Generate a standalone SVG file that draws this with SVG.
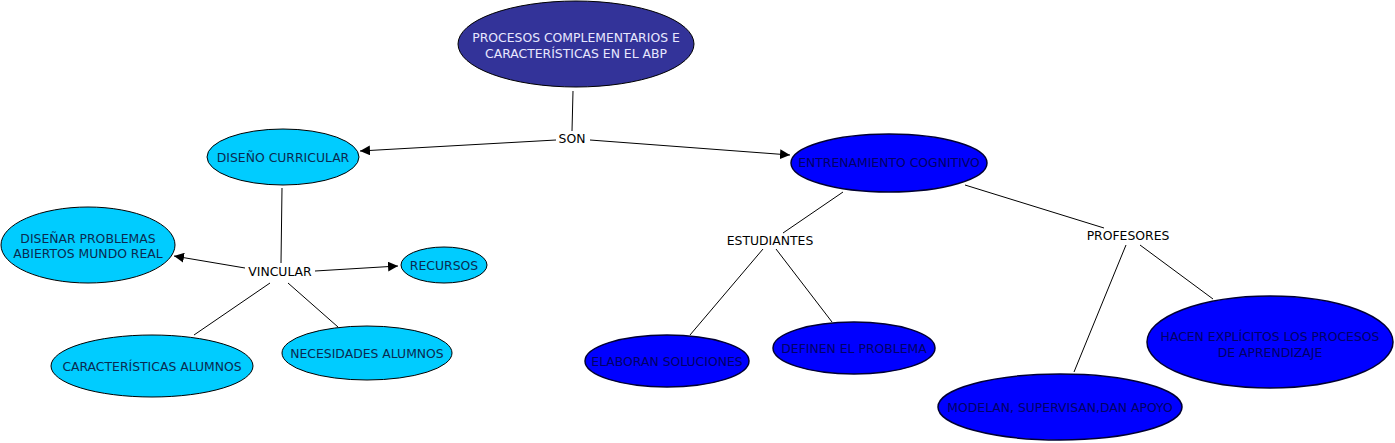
<svg xmlns="http://www.w3.org/2000/svg" width="1395" height="443" viewBox="0 0 1395 443">
<defs>
<marker id="arr" viewBox="0 0 10 10" refX="10" refY="5" markerWidth="10" markerHeight="10" markerUnits="userSpaceOnUse" orient="auto">
<path d="M0,0 L10,5 L0,10 z" fill="#000"/>
</marker>
<style>
.t{font-family:"DejaVu Sans",Verdana,sans-serif;font-size:12.4px;text-anchor:middle;}
.lb{fill:#000;}
.light ellipse{fill:#00ccff;stroke:#000;stroke-width:1;}
.light text{fill:#0a2a50;}
.dark ellipse{fill:#0000ff;stroke:#000033;stroke-width:1.5;}
.dark text{fill:#000066;}
.c line{stroke:#000;stroke-width:1;fill:none;}
.c .a{marker-end:url(#arr);}
</style>
</defs>
<rect width="1395" height="443" fill="#fff"/>
<g id="connectors" class="c">
<line x1="573" y1="91" x2="572" y2="131"/>
<line class="a" x1="556" y1="140" x2="360" y2="151"/>
<line class="a" x1="590" y1="140" x2="790" y2="155"/>
<line x1="282" y1="188" x2="281" y2="263"/>
<line class="a" x1="245" y1="268" x2="174" y2="256"/>
<line class="a" x1="315" y1="271" x2="398" y2="266"/>
<line x1="270" y1="283" x2="194" y2="335"/>
<line x1="288" y1="283" x2="338" y2="327"/>
<line x1="843" y1="192" x2="783" y2="233"/>
<line x1="763" y1="249" x2="690" y2="335"/>
<line x1="776" y1="249" x2="832" y2="322"/>
<line x1="965" y1="185" x2="1104" y2="228"/>
<line x1="1126" y1="245" x2="1074" y2="372"/>
<line x1="1140" y1="245" x2="1213" y2="299"/>
</g>
<g id="labels">
<text class="t lb" x="572" y="143">SON</text>
<text class="t lb" x="280" y="276">VINCULAR</text>
<text class="t lb" x="770" y="245">ESTUDIANTES</text>
<text class="t lb" x="1128" y="240">PROFESORES</text>
</g>
<g id="n-root">
<ellipse cx="576" cy="44" rx="118" ry="43" fill="#333399" stroke="#000" stroke-width="1"/>
<text class="t" x="576" y="42" fill="#e8e8ff">PROCESOS COMPLEMENTARIOS E</text>
<text class="t" x="576" y="58" fill="#e8e8ff">CARACTERÍSTICAS EN EL ABP</text>
</g>
<g id="n-diseno" class="light">
<ellipse cx="283" cy="157" rx="76" ry="28"/>
<text class="t" x="283" y="162">DISEÑO CURRICULAR</text>
</g>
<g id="n-entrenamiento" class="dark">
<ellipse cx="889" cy="163" rx="98" ry="29"/>
<text class="t" x="889" y="167">ENTRENAMIENTO COGNITIVO</text>
</g>
<g id="n-disenar" class="light">
<ellipse cx="88" cy="245" rx="87" ry="38"/>
<text class="t" x="88" y="243">DISEÑAR PROBLEMAS</text>
<text class="t" x="88" y="258">ABIERTOS MUNDO REAL</text>
</g>
<g id="n-recursos" class="light">
<ellipse cx="444" cy="265" rx="43" ry="18"/>
<text class="t" x="444" y="270">RECURSOS</text>
</g>
<g id="n-caracteristicas" class="light">
<ellipse cx="152" cy="366" rx="101" ry="31"/>
<text class="t" x="152" y="371">CARACTERÍSTICAS ALUMNOS</text>
</g>
<g id="n-necesidades" class="light">
<ellipse cx="367" cy="353" rx="85" ry="27"/>
<text class="t" x="367" y="358">NECESIDADES ALUMNOS</text>
</g>
<g id="n-elaboran" class="dark">
<ellipse cx="667" cy="361" rx="82" ry="26"/>
<text class="t" x="667" y="366">ELABORAN SOLUCIONES</text>
</g>
<g id="n-definen" class="dark">
<ellipse cx="854" cy="348" rx="81" ry="26"/>
<text class="t" x="854" y="353">DEFINEN EL PROBLEMA</text>
</g>
<g id="n-modelan" class="dark">
<ellipse cx="1060" cy="407" rx="122" ry="33"/>
<text class="t" x="1060" y="412">MODELAN, SUPERVISAN,DAN APOYO</text>
</g>
<g id="n-hacen" class="dark">
<ellipse cx="1270" cy="342" rx="123" ry="46"/>
<text class="t" x="1270" y="341">HACEN EXPLÍCITOS LOS PROCESOS</text>
<text class="t" x="1270" y="357">DE APRENDIZAJE</text>
</g>
</svg>
